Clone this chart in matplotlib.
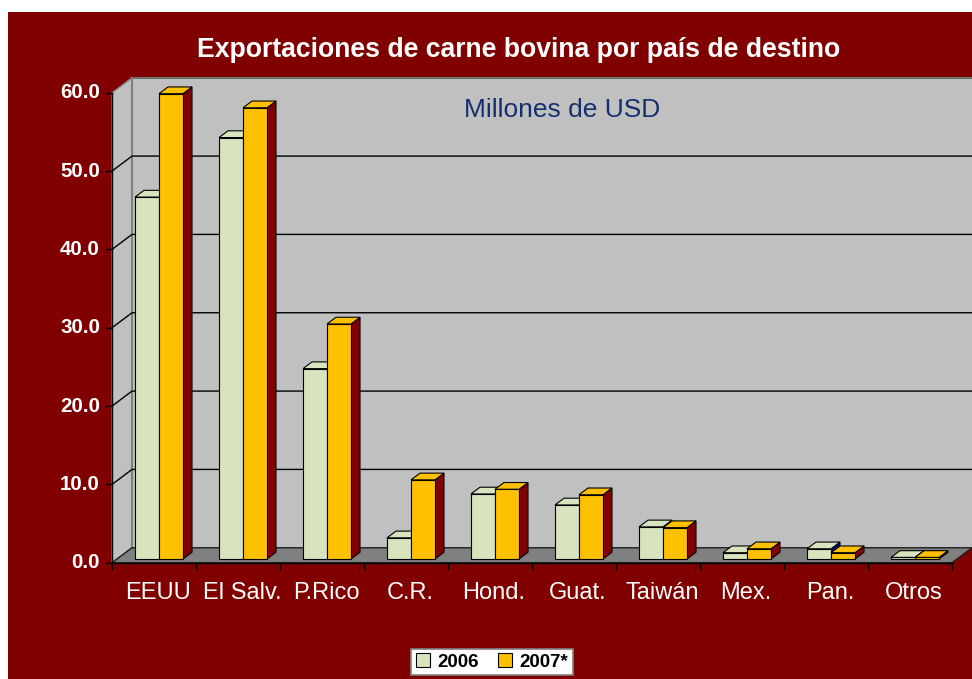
import matplotlib
matplotlib.use("Agg")
import matplotlib.pyplot as plt
from matplotlib.patches import Polygon, Rectangle

plt.rcParams["font.family"] = ["Liberation Sans", "DejaVu Sans"]

# --- data (millones de USD) ---
categories = ["EEUU", "El Salv.", "P.Rico", "C.R.", "Hond.", "Guat.",
              "Taiwán", "Mex.", "Pan.", "Otros"]
values_2006 = [46.2, 53.8, 24.3, 2.7, 8.3, 6.9, 4.1, 0.8, 1.3, 0.2]
values_2007 = [59.4, 57.6, 30.0, 10.1, 8.9, 8.2, 4.0, 1.3, 0.8, 0.2]
series_labels = ["2006", "2007*"]
y_ticks = [0, 10, 20, 30, 40, 50, 60]
y_tick_labels = [f"{v:.1f}" for v in y_ticks]

# --- layout (pixels, measured from top-left of the picture) ---
W, H = 972, 679
X0_PX, CAT_PX = 117, 84          # bar front plane: x of category 0, width of a category
Y0_PX, UNIT_PX = 559, 470 / 60   # bar front plane: y of value 0, pixels per unit
Z_FRONT, Z_BAR, Z_BACK = -5, 9, 15  # depth positions (x shift in px; y shift is 0.75 of it)

C_BG = "#800000"
C_WALL = "#C0C0C0"
C_FLOOR = "#808080"
C_FRONT = ["#D7E4BD", "#FFC000"]
C_SIDE = ["#000080", "#800000"]


def proj(x, y, z):
    """Data coords of a point (category x, value y) pushed back by depth z pixels."""
    return (x + z / CAT_PX, y + 0.75 * z / UNIT_PX)


def px_x(p):
    return p / CAT_PX


def px_y(p):
    return p / UNIT_PX


fig = plt.figure(figsize=(W / 100, H / 100), dpi=100, facecolor="white")
fig.patches.append(Rectangle((8 / W, 0), 1, (H - 12) / H, transform=fig.transFigure,
                             facecolor=C_BG, edgecolor="none", zorder=-5))

ax = fig.add_axes([0, 0, 1, 1])
ax.set_zorder(1)
ax.set_xlim(-X0_PX / CAT_PX, (W - X0_PX) / CAT_PX)
ax.set_ylim(-(H - Y0_PX) / UNIT_PX, Y0_PX / UNIT_PX)
ax.axis("off")
ax.patch.set_visible(False)

n = len(categories)
ymax = y_ticks[-1]

# walls and floor
back = [proj(0, 0, Z_BACK), proj(n + 1, 0, Z_BACK), proj(n + 1, ymax, Z_BACK), proj(0, ymax, Z_BACK)]
ax.add_patch(Polygon(back, closed=True, facecolor=C_WALL, edgecolor="none", zorder=1))
side = [proj(0, 0, Z_FRONT), proj(0, ymax, Z_FRONT), proj(0, ymax, Z_BACK), proj(0, 0, Z_BACK)]
ax.add_patch(Polygon(side, closed=True, facecolor=C_WALL, edgecolor="#808080", lw=1, zorder=1))
floor = [proj(0, 0, Z_FRONT), proj(n, 0, Z_FRONT), proj(n, 0, Z_BACK), proj(0, 0, Z_BACK)]
ax.add_patch(Polygon(floor, closed=True, facecolor=C_FLOOR, edgecolor="#202020", lw=1, zorder=2))

# wall edges
for pts, col in [((proj(0, ymax, Z_BACK), proj(n + 1, ymax, Z_BACK)), "#707070"),
                 ((proj(0, 0, Z_BACK), proj(0, ymax, Z_BACK)), "#808080")]:
    ax.plot([pts[0][0], pts[1][0]], [pts[0][1], pts[1][1]], color=col, lw=1.5, zorder=1.5)

# gridlines
for v in y_ticks[1:-1]:
    a, b, c = proj(0, v, Z_FRONT), proj(0, v, Z_BACK), proj(n + 1, v, Z_BACK)
    ax.plot([a[0], b[0], c[0]], [a[1], b[1], c[1]], color="black", lw=1, zorder=1.5)

# bars: side + top as polygons, front face from ax.bar
width = 24 / CAT_PX
offsets = [18 / CAT_PX, 18 / CAT_PX + width]
handles = []
for s, vals in enumerate([values_2006, values_2007]):
    zb = 3 + 2 * s
    x0s = [i + offsets[s] for i in range(n)]
    for x0, v in zip(x0s, vals):
        x1 = x0 + width
        side_f = [proj(x1, 0, 0), proj(x1, v, 0), proj(x1, v, Z_BAR), proj(x1, 0, Z_BAR)]
        top_f = [proj(x0, v, 0), proj(x1, v, 0), proj(x1, v, Z_BAR), proj(x0, v, Z_BAR)]
        ax.add_patch(Polygon(side_f, closed=True, facecolor=C_SIDE[s], edgecolor="black",
                             lw=0.8, zorder=zb))
        ax.add_patch(Polygon(top_f, closed=True, facecolor=C_FRONT[s], edgecolor="black",
                             lw=0.8, zorder=zb))
    bars = ax.bar(x0s, vals, width=width, align="edge", color=C_FRONT[s],
                  edgecolor="black", lw=0.8, zorder=zb + 1, label=series_labels[s])
    handles.append(bars)

# axes lines and ticks (front plane)
fx0, fy0 = proj(0, 0, Z_FRONT)
fx1, fy1 = proj(0, ymax, Z_FRONT)
ax.plot([fx0, fx1], [fy0, fy1], color="black", lw=1, zorder=10)
ax.plot([fx0, proj(n, 0, Z_FRONT)[0]], [fy0, fy0], color="black", lw=1, zorder=10)
for v, lab in zip(y_ticks, y_tick_labels):
    x, y = proj(0, v, Z_FRONT)
    ax.plot([x - px_x(6), x], [y, y], color="black", lw=1, zorder=10)
    ax.text(x - px_x(12), y, lab, ha="right", va="center", color="white",
            fontsize=14.8, fontweight="bold")
for i in range(n + 1):
    x, y = proj(i, 0, Z_FRONT)
    ax.plot([x, x], [y, y - px_y(6)], color="black", lw=1, zorder=10)
for i, lab in enumerate(categories):
    ax.text(i + 0.5 - px_x(1), -px_y(34), lab, ha="center", va="center",
            color="white", fontsize=17)

ax.text(proj(5, 0, 0)[0] - px_x(18), Y0_PX / UNIT_PX - px_y(50),
        "Exportaciones de carne bovina por país de destino",
        ha="center", va="center", color="white", fontsize=19.2, fontweight="bold")
ax.text(5.3, proj(0, ymax, Z_BACK)[1] - px_y(32), "Millones de USD", ha="center", va="center",
        color="#15306E", fontsize=19)

leg = fig.legend(handles, series_labels, loc="center", bbox_to_anchor=(492 / W, 17 / H),
                 ncol=2, frameon=True, fancybox=False, framealpha=1, edgecolor="#808080",
                 prop={"weight": "bold", "size": 13.5}, handlelength=0.75, handleheight=0.75,
                 handletextpad=0.4, columnspacing=1.0, borderpad=0.25, borderaxespad=0)
leg.get_frame().set_linewidth(1.2)
leg.set_zorder(5)

fig.savefig("out.png", dpi=100, facecolor="white")
